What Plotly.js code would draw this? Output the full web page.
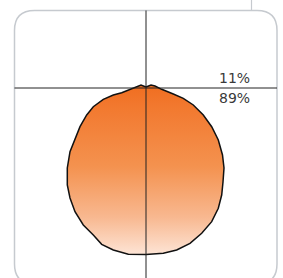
<!DOCTYPE html>
<html>
<head>
<meta charset="utf-8">
<script src="https://cdn.plot.ly/plotly-3.0.1.min.js"></script>
<style>html,body{margin:0;padding:0;background:#fff;}#chart{width:283px;height:278px;}</style>
</head>
<body>
<div id="chart"></div>
<script>
// Outline of the distribution shape (relative to the crosshair at 0,0)
var outlineX = [0, 5, 9, 15.7, 27.3, 37.3, 47.3, 57.3, 65.7, 72.3, 76.5, 78, 77, 75.7, 72.3, 65.7, 55.7, 44, 30.7, 17.3, 0, -17.7, -32.7, -44.3, -52.7, -62.7, -71, -76, -78.7, -78.7, -76, -71, -66, -59.3, -52.7, -42.7, -32.7, -24.3, -14.3, -9, -5, 0];
var outlineY = [1, 3, 2, -1.3, -6, -10.3, -17, -27, -38.7, -52, -67, -80, -94, -107, -120.3, -133.7, -145.3, -155.3, -162, -165.3, -166.5, -166.3, -162, -156.3, -147, -137, -123.7, -110, -97, -80, -63.7, -50.3, -38.7, -27, -18.7, -11.3, -7, -4.7, -0.3, 2, 3, 1];
var thresholdY = 0;
var centerX = 0;
var shareLabels = ["11%", "89%"];

var trace = {
  x: outlineX,
  y: outlineY,
  type: 'scatter',
  mode: 'lines',
  fill: 'toself',
  fillgradient: {
    type: 'vertical',
    colorscale: [[0, '#fde4d5'], [0.22, '#f8b890'], [0.52, '#f4924f'], [0.88, '#f2782e'], [1, '#f06e20']]
  },
  line: {color: '#111', width: 1.5, shape: 'linear'},
  hoverinfo: 'skip',
  showlegend: false
};

var layout = {
  width: 283, height: 278,
  margin: {l: 0, r: 0, t: 0, b: 0},
  paper_bgcolor: '#fff', plot_bgcolor: '#fff',
  xaxis: {range: [-146, 137], visible: false, fixedrange: true},
  yaxis: {range: [-190, 88], visible: false, fixedrange: true},
  showlegend: false,
  shapes: [
    {type: 'path', xref: 'x', yref: 'y', layer: 'below',
     path: 'M -111.5,77.5 L 111,77.5 Q 131,77.5 131,57.5 L 131,-176 Q 131,-196 111,-196 L -111.5,-196 Q -131.5,-196 -131.5,-176 L -131.5,57.5 Q -131.5,77.5 -111.5,77.5 Z',
     line: {color: '#c6cacf', width: 1.5}},
    {type: 'line', xref: 'x', yref: 'y', layer: 'below',
     x0: 105.5, x1: 105.5, y0: 77.5, y1: 90, line: {color: '#c6cacf', width: 1.2}},
    {type: 'line', xref: 'x', yref: 'y', layer: 'above',
     x0: centerX, x1: centerX, y0: 77.5, y1: -200, line: {color: '#222', width: 1}},
    {type: 'line', xref: 'x', yref: 'y', layer: 'above',
     x0: -131.5, x1: 131, y0: thresholdY, y1: thresholdY, line: {color: '#222', width: 1}}
  ],
  annotations: [
    {x: 106, y: 10, xref: 'x', yref: 'y', text: shareLabels[0], showarrow: false,
     xanchor: 'right', yanchor: 'middle', font: {family: 'DejaVu Sans', size: 14, color: '#3a3a3a'}},
    {x: 106, y: -9.5, xref: 'x', yref: 'y', text: shareLabels[1], showarrow: false,
     xanchor: 'right', yanchor: 'middle', font: {family: 'DejaVu Sans', size: 14, color: '#3a3a3a'}}
  ]
};

Plotly.newPlot('chart', [trace], layout, {displayModeBar: false, staticPlot: true});
</script>
</body>
</html>
